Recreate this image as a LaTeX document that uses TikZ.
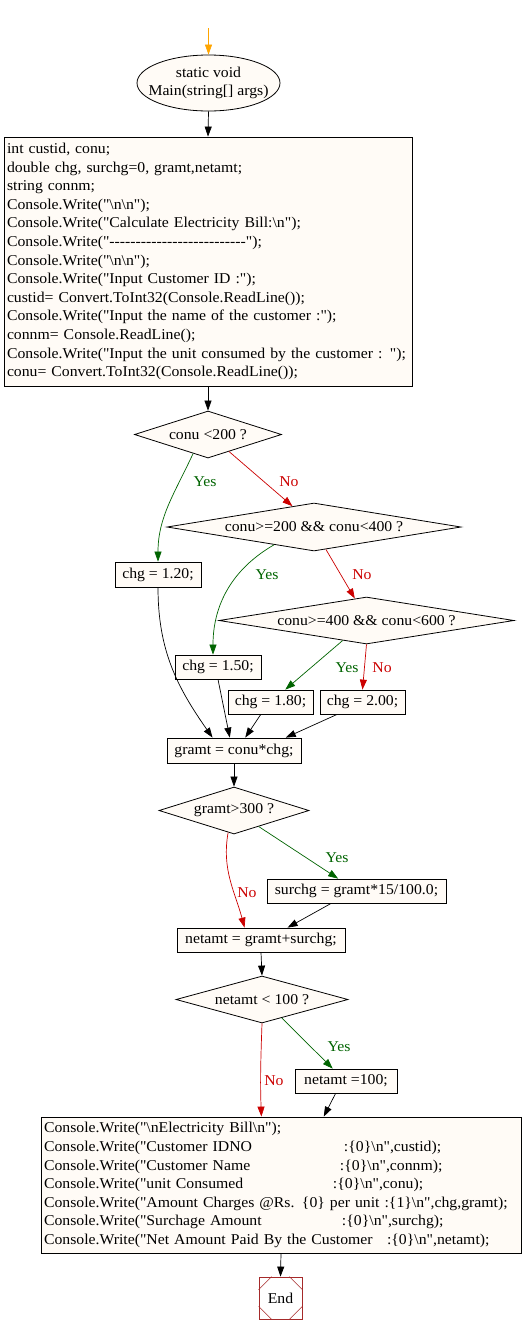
\documentclass[tikz,border=0pt]{standalone}
\usepackage{fontspec}
\setmainfont{Liberation Serif}[Ligatures=TeXOff,FakeStretch=1.05]
\usetikzlibrary{shapes.geometric,arrows.meta,calc}
\definecolor{nodefill}{HTML}{FFFBF6}
\definecolor{yescol}{HTML}{006400}
\definecolor{nocol}{HTML}{CC0000}
\definecolor{startcol}{HTML}{FFA500}
\definecolor{endcol}{HTML}{A52A2A}
\newcommand\bsn{\textbackslash n}
\begin{document}
\begin{tikzpicture}[x=1pt,y=-1pt,
  every node/.style={font=\fontsize{15}{18.6}\selectfont},
  box/.style={draw, fill=nodefill, line width=0.8pt, rectangle, inner sep=0pt, minimum height=24pt},
  dec/.style={draw, fill=nodefill, diamond, line width=0.8pt, inner sep=0pt, shape aspect=3},
  arr/.style={line width=0.7pt, -{Triangle[length=10pt,width=7pt]}},
  yesarr/.style={arr, draw=yescol},
  noarr/.style={arr, draw=nocol},
  lab/.style={inner sep=0pt},
]
\fill[white] (0,0) rectangle (522,1334);
\useasboundingbox (0,0) rectangle (522,1334);

\node[ellipse, draw, fill=nodefill, minimum width=143pt, minimum height=56pt, inner sep=0pt, line width=0.8pt,
  label={[align=center, inner sep=0pt]center:static void\\Main(string[] args)}] (start) at (208.5,83) {};
\coordinate (top) at (208.5,28);

\node[box, minimum width=408pt, minimum height=249pt, text width=402pt, inner xsep=3pt, align=left] (main) at (208,261.5) {int custid, conu;\\
double chg, surchg=0, gramt,netamt;\\
string connm;\\
Console.Write("\bsn\bsn");\\
Console.Write("Calculate Electricity Bill:\bsn");\\
Console.Write("--------------------------");\\
Console.Write("\bsn\bsn");\\
Console.Write("Input Customer ID :");\\
custid= Convert.ToInt32(Console.ReadLine());\\
Console.Write("Input the name of the customer :");\\
connm= Console.ReadLine();\\
Console.Write("Input the unit consumed by the customer : ");\\
conu= Convert.ToInt32(Console.ReadLine());};

\node[dec, minimum width=147pt, minimum height=47pt] (d1) at (208,434.5) {conu <200 ?};
\node[dec, shape aspect=6, minimum width=294pt, minimum height=48pt] (d2) at (314,527) {conu>=200 \&\& conu<400 ?};
\node[dec, shape aspect=6, minimum width=295pt, minimum height=47pt] (d3) at (366.5,620.5) {conu>=400 \&\& conu<600 ?};

\node[box, minimum width=86pt, minimum height=25pt] (c120) at (158,574.5) {chg = 1.20;};
\node[box, minimum width=86pt] (c150) at (218,667) {chg = 1.50;};
\node[box, minimum width=85pt] (c180) at (270.5,702) {chg = 1.80;};
\node[box, minimum width=85pt] (c200) at (362.5,702) {chg = 2.00;};
\node[box, minimum width=134pt, minimum height=25pt] (gramt) at (234,750.5) {gramt = conu*chg;};

\node[dec, minimum width=150pt, minimum height=47pt] (d4) at (234,810.5) {gramt>300 ?};
\node[box, minimum width=179pt] (surchg) at (356.5,891) {surchg = gramt*15/100.0;};
\node[box, minimum width=168pt] (netamt) at (261,940) {netamt = gramt+surchg;};
\node[dec, minimum width=172pt, minimum height=47pt] (d5) at (262,999.5) {netamt < 100 ?};
\node[box, minimum width=102pt] (n100) at (346,1081) {netamt =100;};

\node[box, minimum width=480pt, minimum height=136pt, text width=474pt, inner xsep=3pt, align=left] (final) at (281,1185) {Console.Write("\bsn Electricity Bill\bsn");\\
\makebox[300pt][l]{Console.Write("Customer IDNO}:\{0\}\bsn",custid);\\
\makebox[296pt][l]{Console.Write("Customer Name}:\{0\}\bsn",connm);\\
\makebox[289pt][l]{Console.Write("unit Consumed}:\{0\}\bsn",conu);\\
Console.Write("Amount Charges @Rs. \{0\}\ per unit :\{1\}\bsn",chg,gramt);\\
\makebox[298pt][l]{Console.Write("Surchage Amount}:\{0\}\bsn",surchg);\\
\makebox[343pt][l]{Console.Write("Net Amount Paid By the Customer}:\{0\}\bsn",netamt);};

\node[draw=endcol, line width=0.8pt, fill=white, rectangle, minimum width=43pt, minimum height=42pt, inner sep=0pt] (end) at (280.5,1298) {End};
\draw[endcol, line width=0.6pt] ($(end.north west)+(0,13)$) -- ($(end.north west)+(13,0)$);
\draw[endcol, line width=0.6pt] ($(end.north east)+(-13,0)$) -- ($(end.north east)+(0,13)$);
\draw[endcol, line width=0.6pt] ($(end.south west)+(0,-13)$) -- ($(end.south west)+(13,0)$);
\draw[endcol, line width=0.6pt] ($(end.south east)+(-13,0)$) -- ($(end.south east)+(0,-13)$);

% edges
\draw[arr, draw=startcol] (top) -- (start.north);
\draw[arr] (start.south) -- (main.north);
\draw[arr] (main.south) -- (d1.north);
\draw[yesarr] (d1.232) to[out=-115,in=90] (c120.north);
\draw[noarr] (d1.-39) -- (d2.136);
\draw[yesarr] (d2.204) to[out=210,in=90] (c150.112);
\draw[noarr] (d2.-62) -- (d3.118);
\draw[yesarr] (d3.220) -- (c180.40);
\draw[noarr] (d3.south) -- (c200.north);
\draw[arr] (c120.south) to[out=-90,in=125] (gramt.149);
\draw[arr] (c150.south) -- (gramt.108);
\draw[arr] (c180.232) -- (gramt.49);
\draw[arr] (c200.206) -- (gramt.14);
\draw[arr] (gramt.south) -- (d4.north);
\draw[yesarr] (d4.-33) -- (surchg.146);
\draw[noarr] (d4.255) to[out=-100,in=105] (netamt.143);
\draw[arr] (surchg.206) -- (netamt.25);
\draw[arr] (netamt.south) -- (d5.north);
\draw[yesarr] (d5.-43) -- (n100.137);
\draw[noarr] (d5.south) to[out=-92,in=92] (final.106);
\draw[arr] (n100.230) -- (final.58);
\draw[arr] (final.south) -- (end.north);

% labels
\node[lab, text=yescol] (ly1) at (205,482) {Yes};
\node[lab, text=nocol] (ln1) at (289,482) {No};
\node[lab, text=yescol] (ly2) at (267,575) {Yes};
\node[lab, text=nocol] (ln2) at (362,575) {No};
\node[lab, text=yescol] (ly3) at (347,668) {Yes};
\node[lab, text=nocol] (ln3) at (382,668) {No};
\node[lab, text=yescol] (ly4) at (337,858) {Yes};
\node[lab, text=nocol] (ln4) at (247,893) {No};
\node[lab, text=yescol] (ly5) at (339,1047) {Yes};
\node[lab, text=nocol] (ln5) at (274,1081) {No};
\end{tikzpicture}
\end{document}
